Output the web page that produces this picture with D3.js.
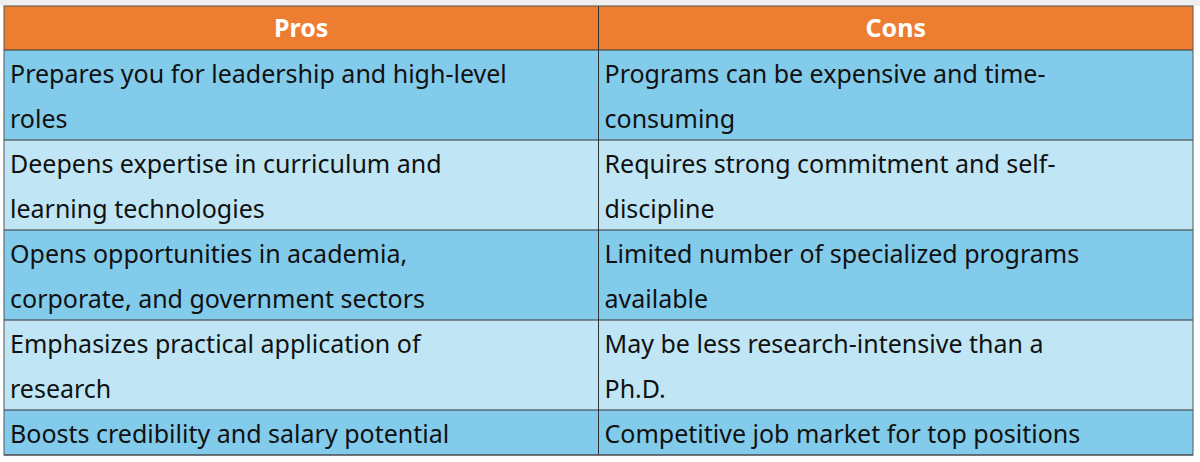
<!DOCTYPE html>
<html>
<head>
<meta charset="utf-8">
<script src="https://cdn.jsdelivr.net/npm/d3@7"></script>
<style>
  body { margin: 0; background: #fff; }
  svg { display: block; }
</style>
</head>
<body>
<svg id="chart" width="1200" height="462"></svg>
<script>
var headers = ['Pros', 'Cons'];

// each cell already split into its visible lines
var pros = [
	['Prepares you for leadership and high-level', 'roles'],
	['Deepens expertise in curriculum and', 'learning technologies'],
	['Opens opportunities in academia,', 'corporate, and government sectors'],
	['Emphasizes practical application of', 'research'],
	['Boosts credibility and salary potential']
];
var cons = [
	['Programs can be expensive and time-', 'consuming'],
	['Requires strong commitment and self-', 'discipline'],
	['Limited number of specialized programs', 'available'],
	['May be less research-intensive than a', 'Ph.D.'],
	['Competitive job market for top positions']
];

(function () {
var svg = d3.select('#chart');
var tLeft = 4, tRight = 1193, tTop = 6, headH = 44, lineH = 45;
var font = "'Noto Sans', 'Open Sans', sans-serif";

// top grey strip like the spreadsheet edge
svg.append('rect').attr('x', 0).attr('y', 0).attr('width', 1200).attr('height', tTop)
	.attr('fill', '#eeeeee');

var x = d3.scaleBand().domain([0, 1]).range([tLeft, tRight]);
var colW = x.bandwidth();

// header
svg.append('rect').attr('x', tLeft).attr('y', tTop).attr('width', tRight - tLeft).attr('height', headH)
	.attr('fill', '#ED7D31');
svg.selectAll('text.head').data(headers).enter().append('text')
	.attr('class', 'head')
	.attr('x', function (d, i) { return x(i) + colW / 2; })
	.attr('y', tTop + headH / 2 + 9)
	.attr('text-anchor', 'middle')
	.attr('fill', '#fff')
	.attr('font-family', font)
	.attr('font-weight', 'bold')
	.attr('font-size', 25)
	.text(function (d) { return d; });

// rows: height from the max number of lines in the row
var rows = pros.map(function (p, i) {
	return { pros: p, cons: cons[i], lines: Math.max(p.length, cons[i].length) };
});
var y0 = tTop + headH;
rows.forEach(function (r) { r.y = y0; r.h = r.lines * lineH; y0 += r.h; });

var g = svg.selectAll('g.row').data(rows).enter().append('g').attr('class', 'row');

g.append('rect')
	.attr('x', tLeft).attr('y', function (d) { return d.y; })
	.attr('width', tRight - tLeft).attr('height', function (d) { return d.h; })
	.attr('fill', function (d, i) { return i % 2 === 0 ? '#83CBEB' : '#C0E6F5'; });

['pros', 'cons'].forEach(function (key, c) {
	g.each(function (d) {
		d3.select(this).selectAll('text.' + key).data(d[key]).enter().append('text')
			.attr('class', key)
			.attr('x', x(c) + 6)
			.attr('y', function (t, j) { return d.y + 33 + j * lineH; })
			.attr('fill', '#111')
			.attr('font-family', font)
			.attr('font-size', 25)
			.attr('textLength', function (t) { return null; })
			.text(function (t) { return t; });
	});
});

// grid lines
var bottom = y0;
var hs = [tTop + headH].concat(rows.map(function (r) { return r.y + r.h; }));
svg.selectAll('line.h').data(hs).enter().append('line')
	.attr('x1', tLeft).attr('x2', tRight)
	.attr('y1', function (d) { return d; }).attr('y2', function (d) { return d; })
	.attr('stroke', '#333').attr('stroke-width', 1);
svg.append('line').attr('x1', x(1)).attr('x2', x(1)).attr('y1', tTop).attr('y2', bottom)
	.attr('stroke', '#333').attr('stroke-width', 1);
svg.append('rect').attr('x', tLeft).attr('y', tTop).attr('width', tRight - tLeft).attr('height', bottom - tTop)
	.attr('fill', 'none').attr('stroke', '#555').attr('stroke-width', 1);
})();
</script>
</body>
</html>
